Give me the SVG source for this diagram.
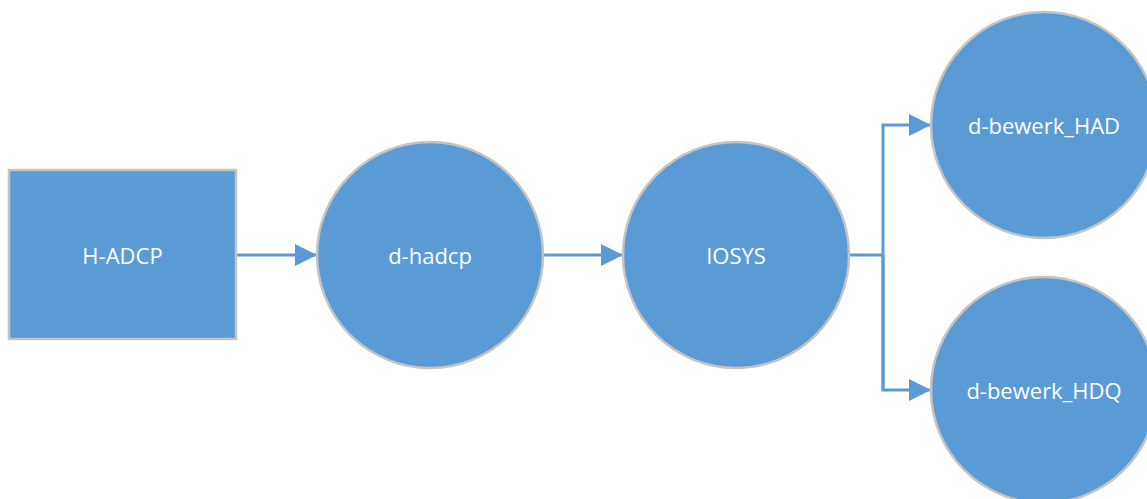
<svg xmlns="http://www.w3.org/2000/svg" width="1147" height="499" viewBox="0 0 1147 499">
<style>
.n{fill:#5B9BD5;stroke:#C4C4C4;stroke-width:2.5}
.t{fill:#FFFFFF;font-family:"Open Sans","Noto Sans",sans-serif;font-size:22px;text-anchor:middle;dominant-baseline:central}
.c{fill:none;stroke:#5B9BD5;stroke-width:3}
</style>
<defs>
<marker id="ah" markerWidth="22" markerHeight="22" viewBox="0 0 22 22" refX="21" refY="11" orient="auto" markerUnits="userSpaceOnUse">
<path d="M0,0 L22,11 L0,22 Z" fill="#5B9BD5"/>
</marker>
</defs>
<rect width="1147" height="499" fill="#FFFFFF"/>
<g id="connectors">
<line class="c" x1="236" y1="255" x2="316" y2="255" marker-end="url(#ah)"/>
<line class="c" x1="543" y1="255" x2="622" y2="255" marker-end="url(#ah)"/>
<polyline class="c" points="849,255 883,255"/>
<polyline class="c" points="883,390 883,125 930,125" marker-end="url(#ah)"/>
<polyline class="c" points="883,255 883,390 930,390" marker-end="url(#ah)"/>
</g>
<g id="node-hadcp-src">
<rect class="n" x="9" y="170" width="227" height="169"/>
<text class="t" x="122.5" y="255">H-ADCP</text>
</g>
<g id="node-d-hadcp">
<circle class="n" cx="430" cy="255" r="113"/>
<text class="t" x="430" y="255">d-hadcp</text>
</g>
<g id="node-iosys">
<circle class="n" cx="736" cy="255" r="113"/>
<text class="t" x="736" y="255">IOSYS</text>
</g>
<g id="node-had">
<circle class="n" cx="1044" cy="125" r="113"/>
<text class="t" x="1044" y="125">d-bewerk_HAD</text>
</g>
<g id="node-hdq">
<circle class="n" cx="1044" cy="390" r="113"/>
<text class="t" x="1044" y="390">d-bewerk_HDQ</text>
</g>
</svg>
